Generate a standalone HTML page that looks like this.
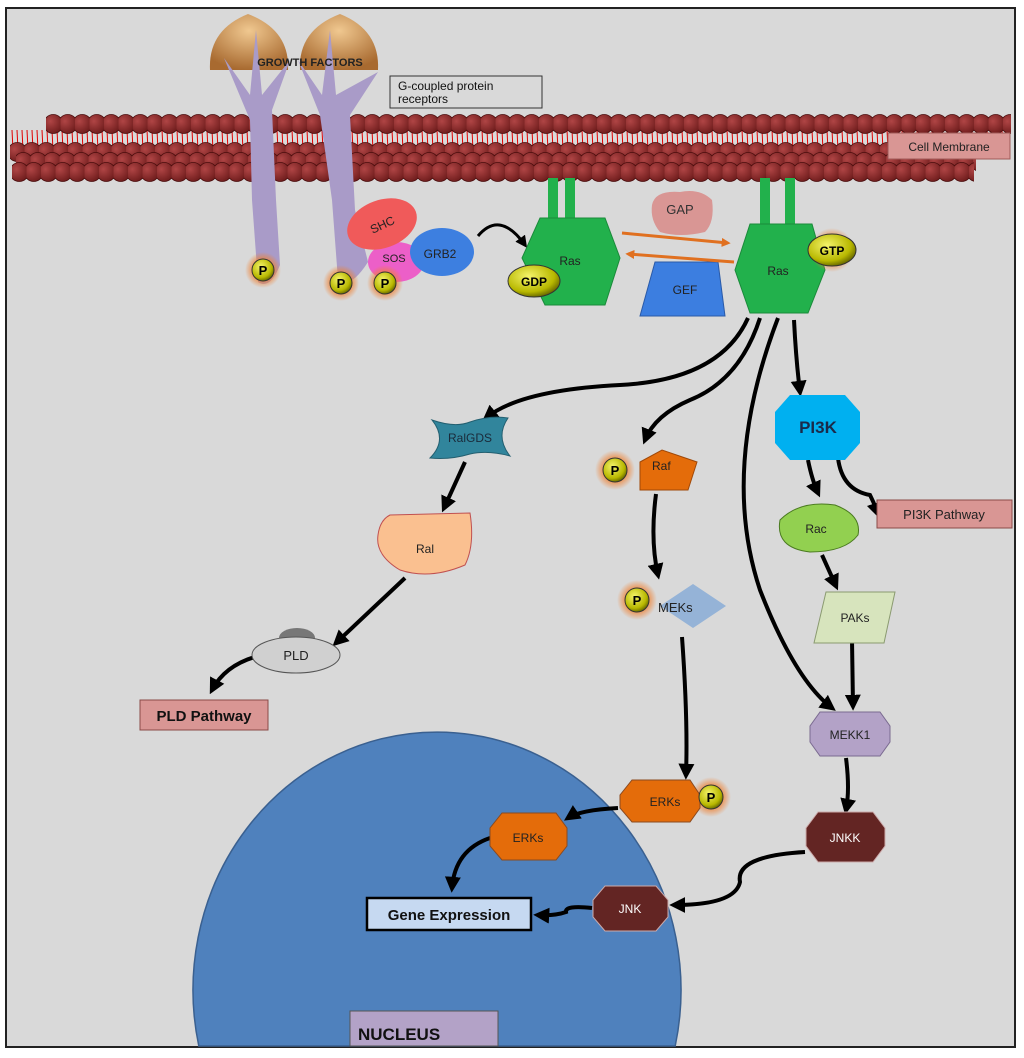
<!DOCTYPE html>
<html><head><meta charset="utf-8"><style>
html,body{margin:0;padding:0;background:#fff;width:1024px;height:1058px;overflow:hidden;}
svg{display:block;font-family:"Liberation Sans",Arial,sans-serif;}
</style></head><body>
<svg width="1024" height="1058" viewBox="0 0 1024 1058" xmlns="http://www.w3.org/2000/svg">
<defs>
<radialGradient id="mb" cx="0.35" cy="0.35" r="0.7"><stop offset="0" stop-color="#b04545"/><stop offset="1" stop-color="#6e1c1c"/></radialGradient>
<pattern id="r1" x="46" y="114" width="14.5" height="22" patternUnits="userSpaceOnUse">
<circle cx="7.25" cy="10" r="9.5" fill="url(#mb)" stroke="#4a0c0c" stroke-width="0.8"/></pattern>
<pattern id="r2" x="10" y="142" width="14.5" height="22" patternUnits="userSpaceOnUse">
<circle cx="7.25" cy="10" r="9.5" fill="url(#mb)" stroke="#4a0c0c" stroke-width="0.8"/></pattern>
<pattern id="r3" x="16" y="152" width="14.5" height="22" patternUnits="userSpaceOnUse">
<circle cx="7.25" cy="10" r="9.5" fill="url(#mb)" stroke="#4a0c0c" stroke-width="0.8"/></pattern>
<pattern id="r4" x="12" y="162" width="14.5" height="22" patternUnits="userSpaceOnUse">
<circle cx="7.25" cy="10" r="9.5" fill="url(#mb)" stroke="#4a0c0c" stroke-width="0.8"/></pattern>
<pattern id="tails" x="0" y="130" width="5" height="20" patternUnits="userSpaceOnUse">
<path d="M2 0 L3 20" stroke="#e00000" stroke-width="1"/></pattern>
<radialGradient id="pg" cx="0.4" cy="0.35" r="0.7"><stop offset="0" stop-color="#f4f36a"/><stop offset="0.7" stop-color="#b8b800"/><stop offset="1" stop-color="#5a5a00"/></radialGradient>
<radialGradient id="glow"><stop offset="0.5" stop-color="#f08030" stop-opacity="0.9"/><stop offset="1" stop-color="#f08030" stop-opacity="0"/></radialGradient>
<radialGradient id="gf" cx="0.5" cy="0.3" r="0.7"><stop offset="0" stop-color="#f0c890"/><stop offset="1" stop-color="#a86a30"/></radialGradient>
<marker id="ah" viewBox="0 0 10 10" refX="7" refY="5" markerWidth="4" markerHeight="4" orient="auto-start-reverse"><path d="M0 0 L10 5 L0 10 z" fill="#000"/></marker>
<marker id="oh" viewBox="0 0 10 10" refX="7" refY="5" markerWidth="3" markerHeight="3" orient="auto"><path d="M0 0 L10 5 L0 10 z" fill="#e07020"/></marker>
</defs>
<rect x="0" y="0" width="1024" height="1058" fill="#fff"/>
<rect x="6" y="8" width="1009" height="1039" fill="#d9d9d9" stroke="#222" stroke-width="2"/>

<path d="M198.8 1046 A244 258 0 1 1 675.2 1046 Z" fill="#4f81bd" stroke="#3a6090" stroke-width="1.5"/>

<!-- membrane -->
<rect x="10" y="130" width="1000" height="20" fill="url(#tails)"/>
<rect x="46" y="114" width="965" height="20" fill="url(#r1)"/>
<rect x="10" y="142" width="965" height="20" fill="url(#r2)"/>
<rect x="16" y="152" width="960" height="20" fill="url(#r3)"/>
<rect x="12" y="162" width="962" height="20" fill="url(#r4)"/>
<rect x="888" y="133" width="122" height="26" fill="#d99694" stroke="#a05a58"/>
<text x="949" y="151" font-size="12" text-anchor="middle" fill="#222">Cell Membrane</text>

<path d="M210 70 Q208 30 248 14 Q290 30 288 70 Z" fill="url(#gf)"/>
<path d="M300 70 Q298 30 340 14 Q380 30 378 70 Z" fill="url(#gf)"/>
<path d="M224 58 L250 95 L256 30 L262 95 L290 60 L272 110 L276 200 L280 265 Q270 290 258 282 L252 200 L250 120 Z" fill="#a99bc8"/>
<path d="M298 60 L322 95 L330 30 L336 95 L378 72 L350 115 L355 210 L368 262 Q350 290 338 280 L332 200 L320 115 Z" fill="#a99bc8"/>
<text x="310" y="66" font-size="11" font-weight="bold" text-anchor="middle" fill="#222">GROWTH FACTORS</text>
<rect x="390" y="76" width="152" height="32" fill="#d9d9d9" stroke="#333"/>
<text x="398" y="90" font-size="12" fill="#111">G-coupled protein</text>
<text x="398" y="103" font-size="12" fill="#111">receptors</text>

<ellipse cx="396" cy="262" rx="28" ry="20" fill="#ec5fc8"/>
<ellipse cx="442" cy="252" rx="32" ry="24" fill="#3d7fe0"/>
<ellipse cx="382" cy="224" rx="36" ry="24" fill="#f05a5a" transform="rotate(-20 382 224)"/>
<text x="382" y="229" font-size="12" text-anchor="middle" fill="#222" transform="rotate(-25 382 224)">SHC</text>
<text x="440" y="258" font-size="12" text-anchor="middle" fill="#222">GRB2</text>
<text x="394" y="262" font-size="11" text-anchor="middle" fill="#222">SOS</text>

<g font-size="13" font-weight="bold" text-anchor="middle">
<circle cx="263" cy="270" r="18" fill="url(#glow)"/><circle cx="263" cy="270" r="11" fill="url(#pg)" stroke="#333"/><text x="263" y="275">P</text>
<circle cx="341" cy="283" r="18" fill="url(#glow)"/><circle cx="341" cy="283" r="11" fill="url(#pg)" stroke="#333"/><text x="341" y="288">P</text>
<circle cx="385" cy="283" r="18" fill="url(#glow)"/><circle cx="385" cy="283" r="11" fill="url(#pg)" stroke="#333"/><text x="385" y="288">P</text>
</g>

<path d="M478 236 Q500 210 525 245" fill="none" stroke="#000" stroke-width="3" marker-end="url(#ah)"/>

<rect x="548" y="178" width="10" height="42" fill="#22b14c"/><rect x="565" y="178" width="10" height="42" fill="#22b14c"/>
<polygon points="540,218 605,218 620,258 605,305 545,305 522,258" fill="#22b14c" stroke="#1a8a3a"/>
<text x="570" y="265" font-size="12" text-anchor="middle" fill="#222">Ras</text>
<ellipse cx="534" cy="281" rx="26" ry="16" fill="url(#pg)" stroke="#333"/>
<text x="534" y="286" font-size="12" font-weight="bold" text-anchor="middle">GDP</text>

<path d="M652 205 Q655 190 680 192 Q700 188 712 200 Q715 222 705 232 Q680 238 660 232 Q650 220 652 205 Z" fill="#d99694"/>
<text x="680" y="214" font-size="13" text-anchor="middle" fill="#333">GAP</text>
<polygon points="655,262 718,262 725,316 640,316" fill="#3c7ee0" stroke="#2a5aa8"/>
<text x="685" y="294" font-size="12" text-anchor="middle" fill="#222">GEF</text>
<path d="M622 233 L728 243" stroke="#e07020" stroke-width="3" marker-end="url(#oh)"/>
<path d="M734 262 L628 254" stroke="#e07020" stroke-width="3" marker-end="url(#oh)"/>

<rect x="760" y="178" width="10" height="48" fill="#22b14c"/><rect x="785" y="178" width="10" height="48" fill="#22b14c"/>
<polygon points="750,224 812,224 825,270 808,313 750,313 735,270" fill="#22b14c" stroke="#1a8a3a"/>
<text x="778" y="275" font-size="12" text-anchor="middle" fill="#222">Ras</text>
<circle cx="832" cy="250" r="22" fill="url(#glow)"/>
<ellipse cx="832" cy="250" rx="24" ry="16" fill="url(#pg)" stroke="#333"/>
<text x="832" y="255" font-size="12" font-weight="bold" text-anchor="middle">GTP</text>

<g fill="none" stroke="#000" stroke-width="4">
<path d="M748 318 Q720 380 620 385 Q520 390 486 418" marker-end="url(#ah)"/>
<path d="M760 318 Q740 380 690 400 Q655 415 645 440" marker-end="url(#ah)"/>
<path d="M778 318 Q720 470 760 590 Q795 680 832 708" marker-end="url(#ah)"/>
<path d="M794 320 Q796 360 800 392" marker-end="url(#ah)"/>
<path d="M465 462 L444 508" marker-end="url(#ah)"/>
<path d="M405 578 L336 643" marker-end="url(#ah)"/>
<path d="M258 656 Q225 665 212 690" marker-end="url(#ah)"/>
<path d="M656 494 Q650 540 658 575" marker-end="url(#ah)"/>
<path d="M682 637 Q688 720 686 775" marker-end="url(#ah)"/>
<path d="M808 460 Q812 480 818 493" marker-end="url(#ah)"/>
<path d="M838 458 Q842 490 870 495 Q875 505 878 514" marker-end="url(#ah)"/>
<path d="M822 555 L836 586" marker-end="url(#ah)"/>
<path d="M852 640 L853 706" marker-end="url(#ah)"/>
<path d="M846 758 Q850 790 846 810" marker-end="url(#ah)"/>
<path d="M618 808 Q580 810 568 818" marker-end="url(#ah)"/>
<path d="M490 838 Q455 850 452 888" marker-end="url(#ah)"/>
<path d="M805 852 Q735 856 740 882 Q735 905 674 905" marker-end="url(#ah)"/>
<path d="M592 908 Q565 905 566 912 Q555 916 538 915" marker-end="url(#ah)"/>
</g>

<path d="M432 420 Q455 428 470 422 Q490 415 508 418 Q495 437 510 456 Q488 450 470 454 Q450 460 430 458 Q448 440 432 420 Z" fill="#31859c" stroke="#235f70"/>
<text x="470" y="442" font-size="12" text-anchor="middle" fill="#1a2a3a">RalGDS</text>
<path d="M390 515 L470 513 Q475 545 465 565 Q430 580 400 570 Q375 555 378 535 Q380 520 390 515 Z" fill="#fac090" stroke="#c05050"/>
<text x="425" y="553" font-size="12" text-anchor="middle" fill="#222">Ral</text>
<ellipse cx="297" cy="638" rx="18" ry="10" fill="#777"/>
<ellipse cx="296" cy="655" rx="44" ry="18" fill="#d0d0d0" stroke="#555"/>
<text x="296" y="660" font-size="13" text-anchor="middle" fill="#222">PLD</text>
<rect x="140" y="700" width="128" height="30" fill="#d99694" stroke="#8a4a48"/>
<text x="204" y="721" font-size="15" font-weight="bold" text-anchor="middle" fill="#111">PLD Pathway</text>

<circle cx="615" cy="470" r="20" fill="url(#glow)"/>
<polygon points="640,462 662,450 697,462 688,490 640,490" fill="#e46c0a" stroke="#a04808"/>
<circle cx="615" cy="470" r="12" fill="url(#pg)" stroke="#333"/>
<text x="615" y="475" font-size="13" font-weight="bold" text-anchor="middle">P</text>
<text x="652" y="470" font-size="12" fill="#222">Raf</text>
<circle cx="637" cy="600" r="20" fill="url(#glow)"/>
<polygon points="693,584 726,606 693,628 660,606" fill="#95b3d7"/>
<circle cx="637" cy="600" r="12" fill="url(#pg)" stroke="#333"/>
<text x="637" y="605" font-size="13" font-weight="bold" text-anchor="middle">P</text>
<text x="658" y="612" font-size="13" fill="#222">MEKs</text>

<polygon points="790,395 845,395 860,412 860,443 845,460 790,460 775,443 775,412" fill="#00b0f0"/>
<text x="818" y="433" font-size="17" font-weight="bold" text-anchor="middle" fill="#1a2a4a">PI3K</text>
<rect x="877" y="500" width="135" height="28" fill="#d99694" stroke="#8a4a48"/>
<text x="944" y="519" font-size="13" text-anchor="middle" fill="#222">PI3K Pathway</text>
<path d="M780 520 Q800 500 835 505 Q862 515 858 535 Q845 552 810 552 Q775 548 780 520 Z" fill="#92d050" stroke="#4a7a20"/>
<text x="816" y="533" font-size="12" text-anchor="middle" fill="#222">Rac</text>
<polygon points="826,592 895,592 884,643 814,643" fill="#d7e4bd" stroke="#8a9a70"/>
<text x="855" y="622" font-size="12" text-anchor="middle" fill="#222">PAKs</text>
<polygon points="820,712 880,712 890,726 890,742 880,756 820,756 810,742 810,726" fill="#b3a2c7" stroke="#7a6a90"/>
<text x="850" y="739" font-size="12" text-anchor="middle" fill="#222">MEKK1</text>

<circle cx="711" cy="797" r="20" fill="url(#glow)"/>
<polygon points="632,780 690,780 700,795 700,808 690,822 632,822 620,808 620,795" fill="#e46c0a" stroke="#8a4a20"/>
<circle cx="711" cy="797" r="12" fill="url(#pg)" stroke="#333"/>
<text x="711" y="802" font-size="13" font-weight="bold" text-anchor="middle">P</text>
<text x="665" y="806" font-size="12" text-anchor="middle" fill="#222">ERKs</text>
<polygon points="502,813 556,813 567,828 567,846 556,860 502,860 490,846 490,828" fill="#e46c0a" stroke="#8a4a20"/>
<text x="528" y="842" font-size="12" text-anchor="middle" fill="#222">ERKs</text>
<polygon points="818,812 873,812 885,828 885,846 873,862 818,862 806,846 806,828" fill="#632523" stroke="#caa"/>
<text x="845" y="842" font-size="12" text-anchor="middle" fill="#fff">JNKK</text>
<polygon points="605,886 656,886 668,900 668,917 656,931 605,931 593,917 593,900" fill="#632523" stroke="#caa"/>
<text x="630" y="913" font-size="12" text-anchor="middle" fill="#fff">JNK</text>
<rect x="367" y="898" width="164" height="32" fill="#c6d9f1" stroke="#000" stroke-width="2.5"/>
<text x="449" y="920" font-size="15" font-weight="bold" text-anchor="middle" fill="#111">Gene Expression</text>
<rect x="350" y="1011" width="148" height="35" fill="#b3a2c7" stroke="#555"/>
<text x="358" y="1040" font-size="17" font-weight="bold" fill="#111">NUCLEUS</text>
</svg>
</body></html>
